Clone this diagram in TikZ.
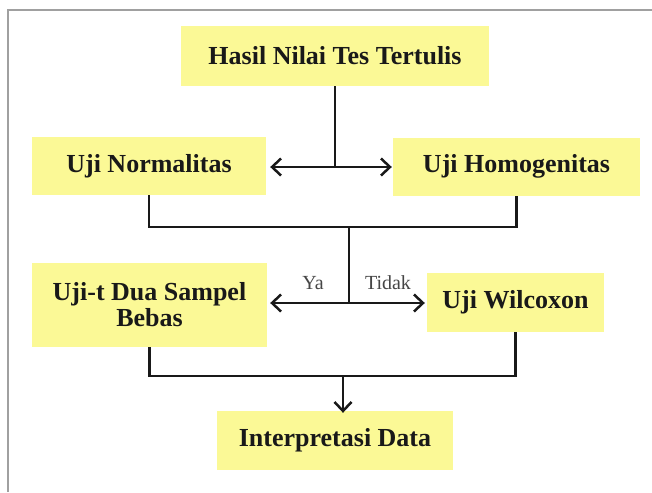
\documentclass[tikz,border=0pt]{standalone}
\usepackage{fontspec}
\setmainfont{Liberation Serif}
\usetikzlibrary{arrows.meta}
\definecolor{boxfill}{RGB}{251,249,150}
\definecolor{ink}{RGB}{25,25,25}
\definecolor{framegray}{RGB}{160,160,160}
\definecolor{labelgray}{RGB}{70,70,70}
\tikzset{
  stepbox/.style={fill=boxfill, draw=none, inner sep=0pt, align=center,
    font=\fontsize{26}{26}\selectfont\bfseries, text=ink},
  conn/.style={draw=ink, line width=2.5pt},
  tip/.style={-{Straight Barb[length=9pt,width=17pt,line width=2.5pt]}},
  dtip/.style={{Straight Barb[length=9pt,width=17pt,line width=2.5pt]}-{Straight Barb[length=9pt,width=17pt,line width=2.5pt]}},
  lbl/.style={font=\fontsize{20}{22}\selectfont, text=labelgray, inner sep=0pt}
}
\begin{document}
\begin{tikzpicture}[x=1pt,y=-1pt]
\useasboundingbox (0,0) rectangle (652,492);
\fill[white] (0,0) rectangle (652,492);
% frame
\draw[framegray, line width=2pt] (8,492) -- (8,10) -- (652,10);
% boxes
\node[stepbox, minimum width=308pt, minimum height=60pt] (hasil) at (335,56) {Hasil Nilai Tes Tertulis};
\node[stepbox, minimum width=234pt, minimum height=58pt] (norm) at (149,166) {Uji Normalitas};
\node[stepbox, minimum width=247pt, minimum height=58pt] (homo) at (516.5,166.5) {Uji Homogenitas};
\node[stepbox, minimum width=235pt, minimum height=84pt] (ujit) at (149.5,305) {Uji-t Dua Sampel\\Bebas};
\node[stepbox, minimum width=177pt, minimum height=59pt] (wilc) at (515.5,302.5) {Uji Wilcoxon};
\node[stepbox, minimum width=236pt, minimum height=59pt] (interp) at (335,440.5) {Interpretasi Data};
% coordinates
\coordinate (j1) at (335,167);
\coordinate (b1) at (349,227);
\coordinate (j2) at (349,303);
\coordinate (b2) at (343,376);
% top connectors
\draw[conn] (hasil.south) -- (j1);
\draw[conn, dtip] ([xshift=4pt]norm.east |- j1) -- ([xshift=-1pt]homo.west |- j1);
\draw[conn] (norm.south) |- (b1) -| (homo.south);
\draw[conn] (b1) -- (j2);
\draw[conn, dtip] ([xshift=3pt]ujit.east |- j2) -- ([xshift=-2pt]wilc.west |- j2);
\node[lbl] (ya) at (313,283) {Ya};
\node[lbl] (tidak) at (388,283) {Tidak};
% bottom connectors
\draw[conn] (ujit.south) |- (b2) -| (wilc.south);
\draw[conn, tip] (b2) -- ([yshift=-2pt]interp.north -| b2);
\end{tikzpicture}
\end{document}
